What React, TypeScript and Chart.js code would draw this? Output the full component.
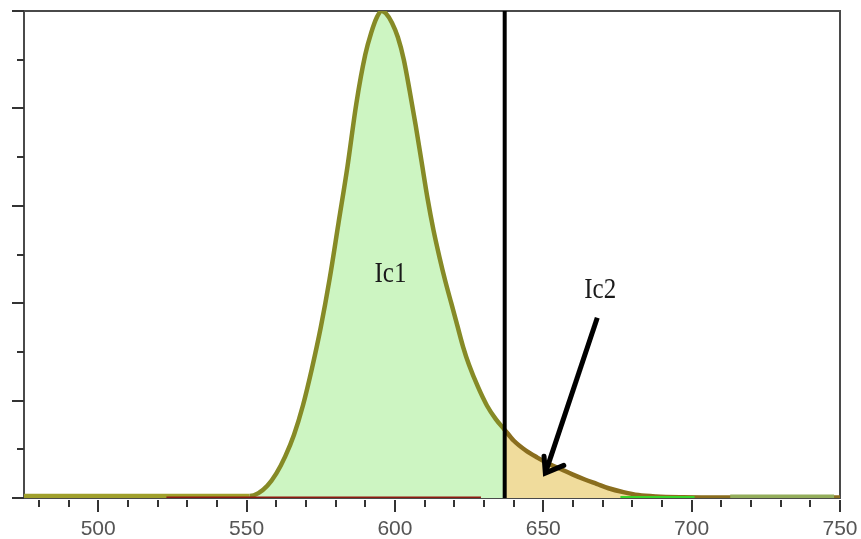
import React, { useEffect, useRef } from "react";
import { Chart, registerables } from "chart.js";

Chart.register(...registerables);

// Emission spectrum (wavelength nm, relative intensity %)
const wavelengths = [475, 500, 525, 545, 551, 554, 557, 560, 563, 566, 569, 572, 575, 578, 581, 584, 587, 590, 592, 594, 595.5, 597, 599, 601, 603, 605, 607, 609, 611, 613, 615, 617, 619, 621, 623, 625, 628, 631, 634, 637, 640, 644, 648, 652, 656, 660, 664, 668, 672, 677, 682, 688, 697, 712, 730, 750];
const intensity = [0.4, 0.4, 0.4, 0.4, 0.4, 1.0, 2.5, 5, 8.5, 13, 19, 26.5, 35, 45, 56.5, 68, 81, 91, 95.5, 98.8, 100, 99.5, 97.6, 94.6, 90, 83.5, 76.5, 69, 61.5, 55, 49.5, 44.5, 40, 35.5, 31, 27.3, 22.8, 19, 16.2, 14, 11.8, 9.8, 8.3, 7, 5.9, 4.8, 3.8, 2.9, 2, 1.2, 0.6, 0.3, 0.15, 0.1, 0.1, 0.1];

const dividerWavelength = 637;
const baselineRed = [523, 629];
const baselineGreen = [676, 701];
const baselineOlive = [713, 748];

const xTickLabels = [500, 550, 600, 650, 700, 750];
const xMinorTicks = [480, 490, 510, 520, 530, 540, 560, 570, 580, 590, 610, 620, 630, 640, 660, 670, 680, 690, 710, 720, 730, 740];
const yTicks = [0, 10, 20, 30, 40, 50, 60, 70, 80, 90, 100];

const labelIc1 = { text: "Ic1", x: 598.5, y: 46 };
const labelIc2 = { text: "Ic2", x: 669.2, y: 42.7 };
const arrowFrom = { x: 668.2, y: 37 };
const arrowTo = { x: 650.7, y: 5.1 };

const points = wavelengths.map((w, i) => ({ x: w, y: intensity[i] }));
const leftPts = points.filter((p) => p.x <= dividerWavelength);
const rightPts = points.filter((p) => p.x >= dividerWavelength);
const seg = (r: number[]) => r.map((x) => ({ x, y: 0 }));

const overlay = {
  id: "overlay",
  beforeDatasetsDraw(chart: any) {
    const { ctx, chartArea: a } = chart;
    ctx.save();
    ctx.strokeStyle = "#4a4a4a";
    ctx.lineWidth = 2;
    ctx.strokeRect(a.left, a.top, a.right - a.left, a.bottom - a.top);
    ctx.restore();
  },
  afterDraw(chart: any) {
    const { ctx, chartArea: a, scales } = chart;
    const xs = scales.x;
    const ys = scales.y;
    ctx.save();
    ctx.strokeStyle = "#333";
    ctx.lineWidth = 2;
    yTicks.forEach((v) => {
      const py = Math.round(ys.getPixelForValue(v));
      const len = v % 20 === 0 ? 12 : 7;
      ctx.beginPath();
      ctx.moveTo(a.left - len, py);
      ctx.lineTo(a.left, py);
      ctx.stroke();
    });
    xMinorTicks.forEach((v) => {
      const px = Math.round(xs.getPixelForValue(v));
      ctx.beginPath();
      ctx.moveTo(px, a.bottom + 2);
      ctx.lineTo(px, a.bottom + 9);
      ctx.stroke();
    });
    xTickLabels.forEach((v) => {
      const px = Math.round(xs.getPixelForValue(v));
      ctx.beginPath();
      ctx.moveTo(px, a.bottom + 2);
      ctx.lineTo(px, a.bottom + 14);
      ctx.stroke();
    });
    ctx.fillStyle = "#1a1a1a";
    ctx.font = "25px 'Liberation Serif', serif";
    ctx.textAlign = "center";
    ctx.textBaseline = "middle";
    [labelIc1, labelIc2].forEach((l) => {
      ctx.save();
      ctx.translate(xs.getPixelForValue(l.x), ys.getPixelForValue(l.y));
      ctx.scale(1, 1.2);
      ctx.fillText(l.text, 0, 0);
      ctx.restore();
    });
    const x0 = xs.getPixelForValue(arrowFrom.x);
    const y0 = ys.getPixelForValue(arrowFrom.y);
    const x1 = xs.getPixelForValue(arrowTo.x);
    const y1 = ys.getPixelForValue(arrowTo.y);
    ctx.strokeStyle = "#000";
    ctx.lineWidth = 5;
    ctx.lineCap = "butt";
    ctx.beginPath();
    ctx.moveTo(x0, y0);
    ctx.lineTo(x1, y1);
    ctx.stroke();
    const ang = Math.atan2(y0 - y1, x0 - x1);
    ctx.lineCap = "round";
    ctx.beginPath();
    ctx.moveTo(x1 + 17 * Math.cos(ang - 0.4), y1 + 17 * Math.sin(ang - 0.4));
    ctx.lineTo(x1, y1);
    ctx.lineTo(x1 + 20 * Math.cos(ang + 0.85), y1 + 20 * Math.sin(ang + 0.85));
    ctx.stroke();
    ctx.restore();
  },
};

export default function App() {
  const ref = useRef<HTMLCanvasElement>(null);
  useEffect(() => {
    if (!ref.current) return;
    const chart = new Chart(ref.current, {
      type: "scatter",
      data: {
        datasets: [
          {
            data: leftPts,
            showLine: true,
            borderWidth: 0,
            pointRadius: 0,
            fill: "origin",
            backgroundColor: "#cdf5c2",
            cubicInterpolationMode: "monotone",
            order: 10,
          } as any,
          {
            data: rightPts,
            showLine: true,
            borderWidth: 0,
            pointRadius: 0,
            fill: "origin",
            backgroundColor: "#f0dc9c",
            cubicInterpolationMode: "monotone",
            order: 9,
          },
          {
            data: points,
            showLine: true,
            borderWidth: 4.5,
            pointRadius: 0,
            fill: false,
            borderColor: "#868a26",
            segment: {
              borderColor: (c: any) =>
                c.p0.parsed.x >= dividerWavelength ? "#8a6e1e" : c.p0.parsed.x < 551 ? "#a0a02c" : "#868a26",
            },
            cubicInterpolationMode: "monotone",
            order: 5,
          },
          { data: seg(baselineRed), showLine: true, borderWidth: 3, borderColor: "#8e1a10", pointRadius: 0, order: 4 },
          { data: seg(baselineGreen), showLine: true, borderWidth: 4, borderColor: "#3ad62a", pointRadius: 0, order: 3 },
          { data: seg(baselineOlive), showLine: true, borderWidth: 7, borderColor: "#94ae5c", pointRadius: 0, order: 2 },
          {
            data: [
              { x: dividerWavelength, y: 0 },
              { x: dividerWavelength, y: 100 },
            ],
            showLine: true,
            borderWidth: 4,
            borderColor: "#000",
            pointRadius: 0,
            order: 1,
          },
        ],
      },
      options: {
        animation: false,
        responsive: false,
        layout: { padding: { top: 11, right: 21, left: 0, bottom: 0 } },
        plugins: { legend: { display: false }, tooltip: { enabled: false } },
        scales: {
          x: {
            type: "linear",
            min: 475,
            max: 750,
            grid: { display: false },
            border: { display: false },
            afterBuildTicks: (s: any) => {
              s.ticks = xTickLabels.map((v) => ({ value: v }));
            },
            afterFit: (s: any) => {
              s.height = 41;
              s.paddingLeft = 0;
              s.paddingRight = 0;
            },
            ticks: {
              color: "#555",
              font: { family: "'Liberation Sans', Arial, sans-serif", size: 21 },
              padding: 11,
              maxRotation: 0,
              autoSkip: false,
            },
          },
          y: {
            min: 0,
            max: 100,
            grid: { display: false },
            border: { display: false },
            ticks: { display: false },
            afterFit: (s: any) => {
              s.width = 24;
            },
          },
        },
      },
      plugins: [overlay],
    });
    return () => chart.destroy();
  }, []);
  return (
    <div style={{ position: "fixed", left: 0, top: 0, width: 861, height: 539, background: "#fff" }}>
      <canvas ref={ref} width={861} height={539} style={{ display: "block" }} />
    </div>
  );
}
